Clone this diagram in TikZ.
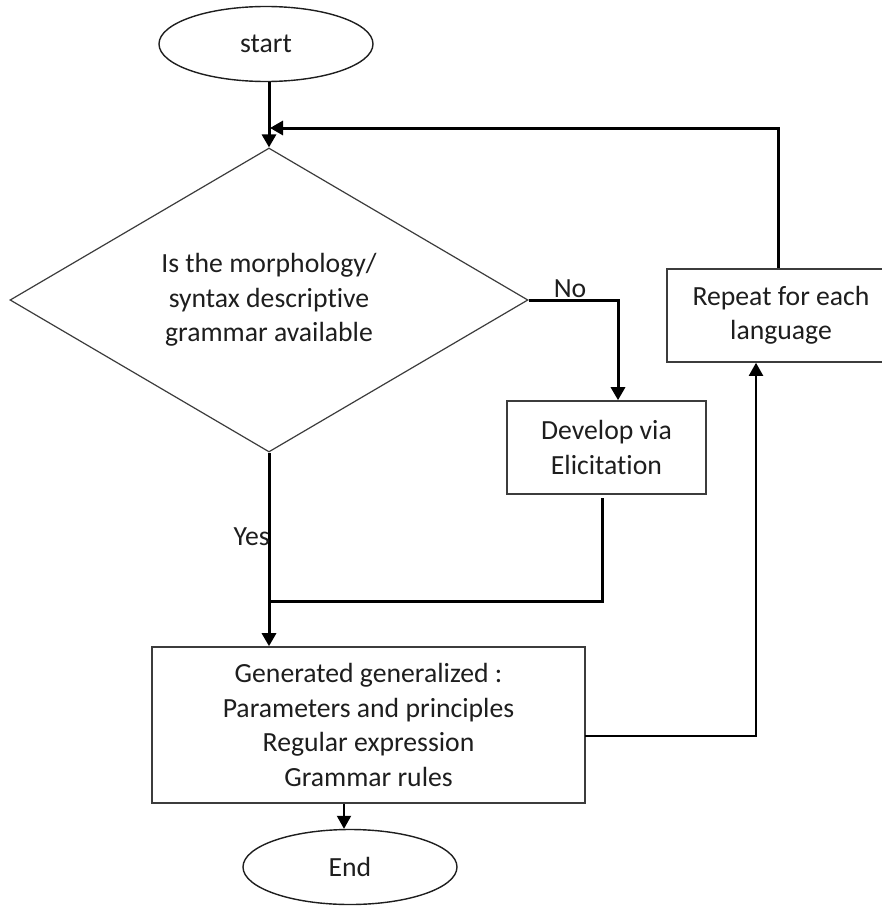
\documentclass[tikz,border=0pt]{standalone}
\usepackage{fontspec}
\setmainfont{Carlito}[Ligatures=NoCommon]
\usetikzlibrary{shapes.geometric,arrows.meta}
\definecolor{ink}{RGB}{30,30,30}
\definecolor{edge}{RGB}{60,60,60}
\begin{document}
\begin{tikzpicture}[x=1pt,y=-1pt,
  txt/.style={font=\fontsize{27.7}{34.5}\selectfont, text=ink, align=center},
  terminal/.style={txt, draw=ink, line width=1.4pt, shape=ellipse, inner sep=0pt,
    minimum width=214pt, minimum height=75pt},
  procbox/.style={txt, draw=edge, line width=1.6pt, shape=rectangle, inner sep=0pt},
  decision/.style={txt, draw=edge, line width=1.2pt, shape=diamond, aspect=1.7,
    inner sep=0pt, minimum width=518pt, minimum height=304pt},
  link/.style={draw=black, line width=3pt},
  arr/.style={link, -{Triangle[length=13pt,width=14pt]}},
  lbl/.style={txt, inner sep=0pt}]
  \useasboundingbox[fill=white] (0,0) rectangle (882,907);

  % shapes
  \node[terminal] (start) at (266,44) {start};
  \node[decision] (dia) at (269,300)
    {Is the morphology/\\syntax descriptive\\grammar available};
  \node[procbox, minimum width=199pt, minimum height=93pt] (dev) at (606.5,447.5)
    {Develop via\\Elicitation};
  \node[procbox, minimum width=228pt, minimum height=93pt] (rep) at (781,315.5)
    {Repeat for each\\language};
  \node[procbox, minimum width=433pt, minimum height=156pt] (gen) at (368.5,725)
    {Generated generalized :\\Parameters and principles\\Regular expression\\Grammar rules};
  \node[terminal] (end) at (350,867) {End};

  % routing points
  \coordinate (nox) at (618,0);
  \coordinate (devout) at (602,498);
  \coordinate (joint) at (269,601);
  \coordinate (genout) at (585,736);
  \coordinate (repin) at (756,0);
  \coordinate (repout) at (778,0);
  \coordinate (loop) at (270,128);
  \coordinate (endx) at (344,0);

  % connectors
  \draw[arr] (start.south -| dia.north) -- (dia.north);
  \draw[arr] (dia.east) -| (dev.north -| nox);
  \draw[arr] (dia.south) -- (gen.north -| dia.south);
  \draw[link] (devout) |- (joint);
  \draw[arr, line width=2pt] (gen.south -| endx) -- (end.north -| endx);
  \draw[arr, line width=2pt] (genout) -| (rep.south -| repin);
  \draw[arr] (rep.north -| repout) |- (loop);

  % branch labels
  \node[lbl] (no) at (570,289) {No};
  \node[lbl, anchor=east] (yes) at (270,537) {Yes};
\end{tikzpicture}
\end{document}
